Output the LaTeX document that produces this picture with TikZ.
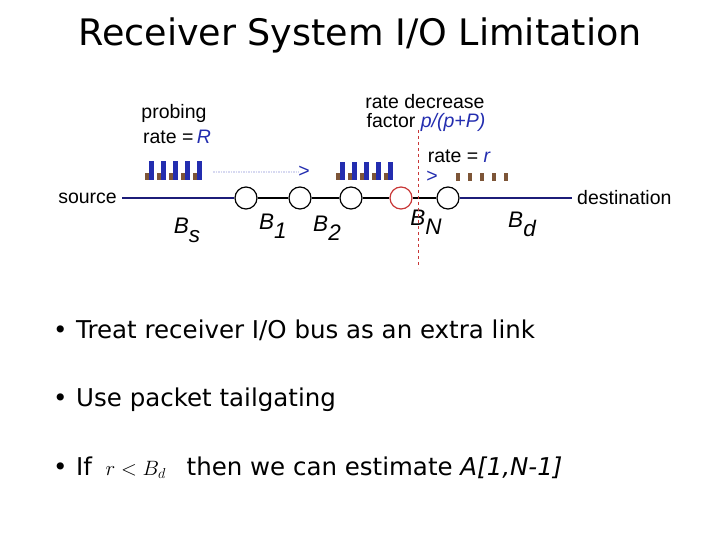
\documentclass[tikz,border=0pt]{standalone}
\usepackage{fontspec}
\setmainfont{DejaVu Sans}
\newfontfamily\labelfont{Liberation Sans}
\usetikzlibrary{positioning}
\definecolor{ioNavy}{RGB}{28,28,120}
\definecolor{ioBlue}{RGB}{35,45,175}
\definecolor{ioBrown}{RGB}{125,85,55}
\definecolor{ioRed}{RGB}{200,55,55}
\newcommand\hopname[2]{#1\raisebox{-0.4em}{#2}}

\begin{document}
\begin{tikzpicture}[x=1pt, y=-1pt,
    hop/.style={circle, draw=black, line width=1.2pt, minimum size=22pt, inner sep=0pt},
    lbl/.style={font=\labelfont\fontsize{19.5}{22}\selectfont, inner sep=0pt},
    bw/.style={font=\labelfont\itshape\fontsize{22.5}{24}\selectfont, inner sep=0pt},
    item/.style={font=\fontsize{24.5}{28}\selectfont, anchor=west, inner sep=0pt},
    wire/.style={line width=1.2pt},
    hint/.style={text=ioBlue}
  ]
    \useasboundingbox (0,0) rectangle (720,540);
    \node[font=\fontsize{36.5}{42}\selectfont] (title) at (360,35) {Receiver System I/O Limitation};

    \node[lbl, anchor=east] (src) at (117,198) {source};
    \node[hop] (n1) at (246,198) {};
    \node[hop] (n2) at (300,198) {};
    \node[hop] (n3) at (351,198) {};
    \node[hop, draw=ioRed] (n4) at (401,198) {};
    \node[hop] (n5) at (448,198) {};
    \node[lbl, anchor=west] (dst) at (577,198) {destination};
    \coordinate (s0) at (122,198);
    \coordinate (d0) at (572,198);
    \draw[wire, ioNavy] (s0) -- (n1);
    \draw[wire] (n1) -- (n2) -- (n3) -- (n4) -- (n5);
    \draw[wire, ioNavy] (n5) -- (d0);

    \node[bw] (bs) at (187,230) {\hopname{B}{s}};
    \node[bw] (b1) at (273,226) {\hopname{B}{1}};
    \node[bw] (b2) at (327,228) {\hopname{B}{2}};
    \node[bw] (bn) at (426,222) {\hopname{B}{N}};
    \node[bw] (bd) at (522,224) {\hopname{B}{d}};

    \node[lbl] (probe) at (174,113) {probing};
    \node[lbl] (rateR) at (177,137) {rate =\,{\color{ioBlue}\itshape R}};
    \node[lbl] (decr) at (425,102) {rate decrease};
    \node[lbl] (fact) at (426,122) {factor {\color{ioBlue}\itshape p/(p+P)}};
    \node[lbl] (rater) at (459,156) {rate = {\color{ioBlue}\itshape r}};

    \foreach \x in {145,157,...,193} {
      \fill[ioBrown] (\x,173) rectangle ++(4,7);
      \fill[ioBlue] (\x+4,161) rectangle ++(5,19);
    }
    \foreach \x in {336,348,...,384} {
      \fill[ioBrown] (\x,173) rectangle ++(4,7);
      \fill[ioBlue] (\x+4,162) rectangle ++(5,18);
    }
    \foreach \x in {456,468,...,504} {
      \fill[ioBrown] (\x,173) rectangle ++(4,8);
    }

    \coordinate (g0) at (213,172);
    \node[lbl, hint] (arr1) at (304,172) {>};
    \draw[ioBlue!18, line width=1.5pt, densely dotted] (g0) -- (arr1.west);
    \node[lbl, hint] (arr2) at (432,177) {>};

    \coordinate (cutTop) at (418,130);
    \coordinate (cutBot) at (418,268);
    \draw[ioRed, dashed, line width=0.6pt] (cutTop) -- (cutBot);

    \node[item] (t1) at (53,330) {\textbullet\hspace{0.35em}Treat receiver I/O bus as an extra link};
    \node[item] (t2) at (53,400) {\textbullet\hspace{0.35em}Use packet tailgating};
    \node[item] (t3) at (53,468) {\textbullet\hspace{0.35em}If\hspace{0.55em}{\fontsize{22}{24}\selectfont$r<B_d$}\hspace{0.85em}then we can estimate \textit{A[1,N-1]}};
  \end{tikzpicture}
\end{document}
